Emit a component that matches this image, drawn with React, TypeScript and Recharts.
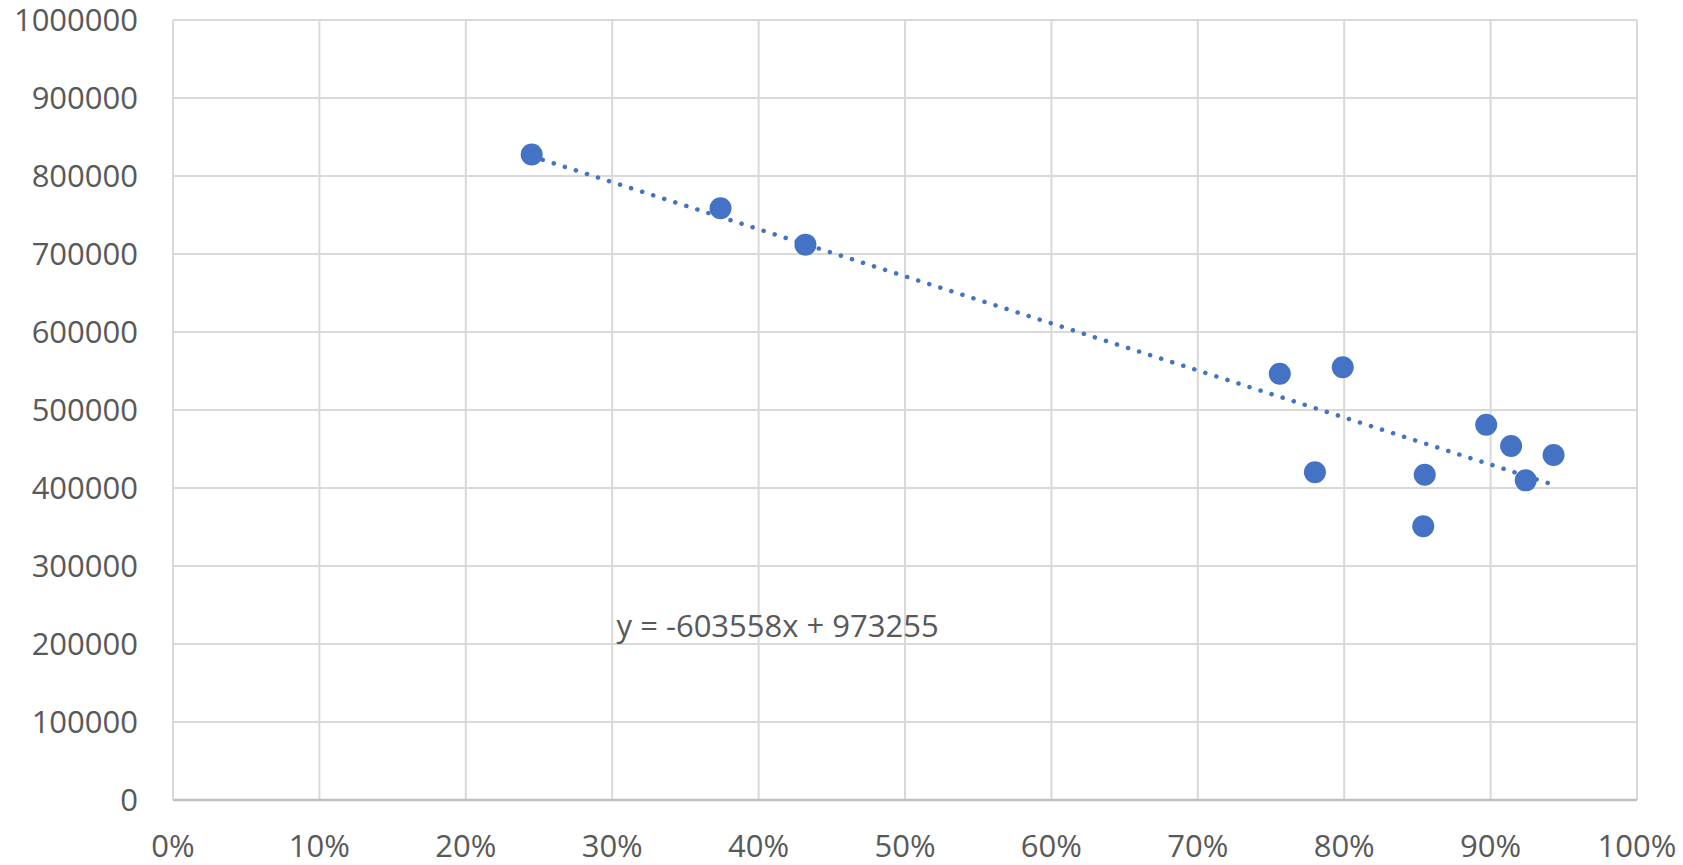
import {
  CartesianGrid,
  ReferenceDot,
  ReferenceLine,
  Scatter,
  ScatterChart,
  XAxis,
  YAxis,
} from 'recharts'

const shares = [0.245, 0.374, 0.432, 0.756, 0.78, 0.799, 0.854, 0.855, 0.897, 0.914, 0.924, 0.943]
const values = [827600, 758700, 712000, 546500, 420100, 554700, 350900, 417100, 481200, 453800, 409800, 442300]

const xTicks = [0, 0.1, 0.2, 0.3, 0.4, 0.5, 0.6, 0.7, 0.8, 0.9, 1]
const yTicks = [0, 100000, 200000, 300000, 400000, 500000, 600000, 700000, 800000, 900000, 1000000]

// Trendlinie aus Excel: y = -603558x + 973255
const slope = -603558
const intercept = 973255
const equation = 'y = -603558x + 973255'

const FONT = '"Open Sans", sans-serif'
const TEXT = '#595959'
const BLUE = '#4472C4'

const Dot = (p: any) => <circle cx={p.cx} cy={p.cy} r={11} fill={BLUE} />

export default function App() {
  const rows = shares.map((s, i) => ({ share: s, value: values[i] }))
  const xMin = Math.min(...shares)
  const xMax = Math.max(...shares)
  const tick = { fontSize: 31, fontFamily: FONT, fill: TEXT }

  return (
    <div style={{ position: 'absolute', left: 0, top: 0 }}>
      <ScatterChart width={1683} height={865} margin={{ top: 20, right: 46, bottom: 0, left: 0 }}>
        <CartesianGrid stroke="#d9d9d9" strokeWidth={2} />
        <XAxis
          type="number"
          dataKey="share"
          domain={[0, 1]}
          ticks={xTicks}
          tickFormatter={(v: number) => `${Math.round(v * 100)}%`}
          tick={tick}
          tickLine={false}
          tickSize={0}
          tickMargin={35}
          axisLine={{ stroke: '#bfbfbf', strokeWidth: 2.5 }}
          height={65}
          interval={0}
        />
        <YAxis
          type="number"
          dataKey="value"
          domain={[0, 1000000]}
          ticks={yTicks}
          tick={tick}
          tickLine={false}
          tickSize={0}
          tickMargin={35}
          axisLine={{ stroke: '#d9d9d9', strokeWidth: 2 }}
          width={173}
          interval={0}
        />
        <Scatter data={rows} fill={BLUE} shape={Dot} isAnimationActive={false} />
        <ReferenceLine
          segment={[
            { x: xMin, y: slope * xMin + intercept },
            { x: xMax, y: slope * xMax + intercept },
          ]}
          stroke={BLUE}
          strokeWidth={4.5}
          strokeDasharray="0.1 11.5"
          strokeLinecap="round"
        />
        <ReferenceDot
          x={0.303}
          y={223000}
          r={0}
          fill="none"
          stroke="none"
          label={{ value: equation, position: 'right', offset: 0, fontSize: 31, fontFamily: FONT, fill: TEXT }}
        />
      </ScatterChart>
    </div>
  )
}
